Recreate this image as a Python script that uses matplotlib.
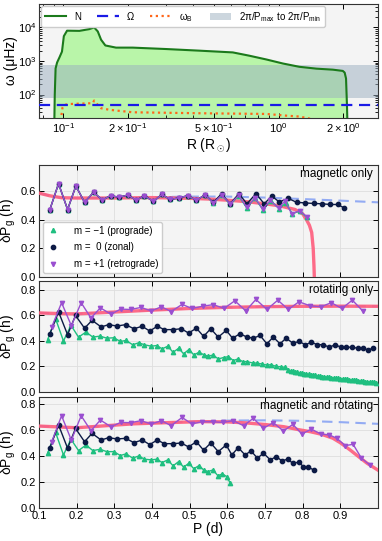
import numpy as np
import matplotlib
matplotlib.use('Agg')
from matplotlib import pyplot as plt
from matplotlib.ticker import FixedLocator, FixedFormatter, LogLocator, NullFormatter

plt.rcParams['font.family'] = ['Liberation Sans', 'DejaVu Sans']
plt.rcParams['mathtext.fontset'] = 'custom'
plt.rcParams['mathtext.rm'] = 'Liberation Sans'
plt.rcParams['mathtext.it'] = 'Liberation Sans:italic'
plt.rcParams['mathtext.bf'] = 'Liberation Sans:bold'

# ---- top panel : frequency profiles ----
R_N = [0.0905, 0.0912, 0.092, 0.0935, 0.096, 0.0985, 0.1005, 0.104, 0.1187, 0.132, 0.139,
       0.1445, 0.1497, 0.1567, 0.1757, 0.21, 0.30, 0.428, 0.613, 0.73, 0.877, 1.048, 1.25,
       1.5, 1.79, 1.99, 2.03, 2.06, 2.08, 2.10]
N_prof = [5, 100, 600, 900, 1300, 1900, 5500, 8000, 7900, 8900, 10000,
          7600, 4300, 2900, 2500, 2500, 2270, 2030, 1800, 1440, 1110, 840, 670,
          590, 550, 505, 450, 300, 50, 5]
R_B = [0.0965, 0.0976, 0.099, 0.101, 0.1066, 0.125, 0.137, 0.139, 0.1445, 0.1497, 0.1637,
       0.21, 0.428, 0.877, 1.086, 1.25, 1.40]
wB_prof = [5, 20, 40, 49, 52, 54, 55, 66, 49, 39, 35, 29.5, 27.6, 26.3, 23.4, 22, 19]
Omega = 50.0
band_lo, band_hi = 76, 760

# ---- magnetic only ----
mag_P_low = [0.129, 0.152, 0.176, 0.198, 0.221, 0.245, 0.268, 0.290, 0.312, 0.336,
             0.358, 0.380, 0.404, 0.426, 0.448, 0.471, 0.495, 0.518]
mag_d_low = [0.47, 0.65, 0.47, 0.634, 0.52, 0.59, 0.537, 0.566, 0.556, 0.57,
             0.535, 0.566, 0.526, 0.575, 0.54, 0.551, 0.566, 0.535]
mag_P_m1 = [0.541, 0.563, 0.585, 0.608, 0.630, 0.652, 0.673, 0.694, 0.716, 0.738, 0.755,
            0.773, 0.792, 0.811]
mag_d_m1 = [0.572, 0.514, 0.57, 0.505, 0.565, 0.48, 0.55, 0.47, 0.53, 0.475, 0.515,
            0.44, 0.46, 0.415]
mag_P_m0 = [0.541, 0.563, 0.585, 0.607, 0.631, 0.652, 0.676, 0.698, 0.718, 0.738, 0.762,
            0.784, 0.807, 0.829, 0.851, 0.873, 0.893, 0.911]
mag_d_m0 = [0.572, 0.52, 0.58, 0.51, 0.58, 0.51, 0.58, 0.51, 0.563, 0.523, 0.547,
            0.52, 0.516, 0.512, 0.51, 0.505, 0.505, 0.48]
mag_P_p1 = [0.541, 0.563, 0.585, 0.608, 0.630, 0.652, 0.673, 0.694, 0.714, 0.736, 0.753,
            0.771, 0.792, 0.811]
mag_d_p1 = [0.572, 0.516, 0.57, 0.51, 0.568, 0.485, 0.552, 0.475, 0.533, 0.48, 0.528,
            0.44, 0.462, 0.42]
mag_curve_P = [0.10, 0.13, 0.16, 0.20, 0.30, 0.40, 0.50, 0.55, 0.60, 0.65, 0.70, 0.74,
               0.78, 0.80, 0.81, 0.818, 0.824, 0.828, 0.830, 0.831]
mag_curve_d = [0.584, 0.565, 0.552, 0.55, 0.55, 0.553, 0.548, 0.543, 0.535, 0.525, 0.51,
               0.495, 0.47, 0.44, 0.40, 0.36, 0.31, 0.20, 0.08, 0.0]
mag_ref_P = [0.10, 0.13, 0.16, 0.20, 0.30, 0.40, 0.50, 0.60, 0.70, 0.80, 0.90, 1.0]
mag_ref_d = [0.584, 0.565, 0.552, 0.55, 0.552, 0.556, 0.56, 0.56, 0.553, 0.543, 0.532, 0.52]

# ---- rotating only ----
rot_P_m1 = [0.123, 0.144, 0.165, 0.185, 0.205, 0.225, 0.243, 0.262, 0.280, 0.299,
            0.316, 0.331, 0.349, 0.365, 0.380, 0.398, 0.413, 0.427, 0.442, 0.456,
            0.471, 0.484, 0.498, 0.511, 0.525, 0.537, 0.549, 0.562, 0.576, 0.590,
            0.603, 0.616, 0.628, 0.641, 0.653, 0.667, 0.678, 0.692, 0.705, 0.716,
            0.730, 0.742, 0.753, 0.762, 0.768, 0.774, 0.780, 0.786, 0.792, 0.798,
            0.804, 0.810, 0.816, 0.822, 0.828, 0.834, 0.840, 0.846, 0.852, 0.858,
            0.864, 0.870, 0.876, 0.882, 0.888, 0.894, 0.900, 0.906, 0.912, 0.918,
            0.924, 0.930, 0.936, 0.942, 0.948, 0.954, 0.960, 0.966, 0.972, 0.978,
            0.984, 0.990, 0.996]
rot_d_m1 = [0.41, 0.575, 0.40, 0.523, 0.43, 0.47, 0.43, 0.438, 0.422, 0.425,
            0.396, 0.404, 0.37, 0.386, 0.37, 0.359, 0.364, 0.338, 0.359, 0.311,
            0.343, 0.299, 0.333, 0.291, 0.311, 0.293, 0.28, 0.29, 0.259, 0.27,
            0.277, 0.246, 0.259, 0.238, 0.238, 0.227, 0.227, 0.219, 0.211, 0.214,
            0.20, 0.198, 0.193, 0.170, 0.164, 0.161, 0.157, 0.154, 0.149, 0.147,
            0.143, 0.141, 0.137, 0.135, 0.131, 0.130, 0.126, 0.125, 0.121, 0.120,
            0.116, 0.115, 0.112, 0.110, 0.107, 0.106, 0.103, 0.102, 0.099, 0.098,
            0.095, 0.094, 0.091, 0.090, 0.087, 0.086, 0.083, 0.082, 0.079, 0.079,
            0.076, 0.075, 0.073]
rot_P_m0 = [0.129, 0.152, 0.176, 0.197, 0.221, 0.241, 0.265, 0.285, 0.307, 0.330,
            0.352, 0.374, 0.394, 0.414, 0.433, 0.456, 0.478, 0.497, 0.518, 0.537,
            0.556, 0.576, 0.597, 0.614, 0.634, 0.652, 0.669, 0.687, 0.705, 0.722,
            0.740, 0.756, 0.774, 0.791, 0.807, 0.823, 0.838, 0.855, 0.871, 0.886,
            0.902, 0.916, 0.931, 0.946, 0.959, 0.973, 0.988]
rot_d_m0 = [0.457, 0.628, 0.449, 0.60, 0.50, 0.562, 0.51, 0.528, 0.517, 0.528,
            0.496, 0.515, 0.478, 0.515, 0.489, 0.489, 0.496, 0.462, 0.50, 0.436,
            0.496, 0.43, 0.483, 0.422, 0.457, 0.43, 0.422, 0.443, 0.378, 0.43,
            0.378, 0.422, 0.383, 0.396, 0.37, 0.39, 0.372, 0.37, 0.351, 0.37,
            0.351, 0.351, 0.351, 0.343, 0.343, 0.33, 0.343]
rot_P_p1 = [0.134, 0.160, 0.186, 0.212, 0.238, 0.263, 0.291, 0.317, 0.343, 0.371,
            0.398, 0.425, 0.451, 0.480, 0.506, 0.535, 0.563, 0.591, 0.620, 0.649,
            0.676, 0.705, 0.734, 0.762, 0.790, 0.820, 0.848, 0.876, 0.904, 0.932, 0.960]
rot_d_p1 = [0.51, 0.70, 0.52, 0.70, 0.58, 0.66, 0.61, 0.65, 0.647, 0.663,
            0.636, 0.668, 0.631, 0.687, 0.655, 0.673, 0.685, 0.655, 0.715, 0.636,
            0.726, 0.647, 0.72, 0.647, 0.707, 0.676, 0.668, 0.70, 0.655, 0.72, 0.634]
rot_curve_P = [0.10, 0.15, 0.20, 0.30, 0.40, 0.50, 0.60, 0.70, 0.80, 0.90, 1.0]
rot_curve_d = [0.62, 0.615, 0.612, 0.627, 0.642, 0.655, 0.664, 0.669, 0.672, 0.673, 0.672]

# ---- magnetic and rotating ----
mr_P_m1 = [0.123, 0.144, 0.165, 0.185, 0.205, 0.225, 0.243, 0.262, 0.280, 0.299,
           0.316, 0.331, 0.349, 0.365, 0.380, 0.398, 0.413, 0.427, 0.442, 0.456,
           0.471, 0.484, 0.498, 0.511, 0.525, 0.537, 0.549, 0.562, 0.575, 0.587,
           0.598, 0.607]
mr_d_m1 = [0.42, 0.58, 0.407, 0.527, 0.44, 0.483, 0.44, 0.45, 0.432, 0.432,
           0.402, 0.415, 0.382, 0.399, 0.374, 0.369, 0.374, 0.348, 0.369, 0.323,
           0.356, 0.313, 0.343, 0.301, 0.325, 0.292, 0.279, 0.292, 0.247, 0.262,
           0.241, 0.195]
mr_P_m0 = [0.129, 0.152, 0.176, 0.197, 0.221, 0.241, 0.265, 0.285, 0.307, 0.330,
           0.352, 0.374, 0.394, 0.414, 0.433, 0.456, 0.478, 0.497, 0.518, 0.537,
           0.556, 0.576, 0.597, 0.612, 0.629, 0.647, 0.663, 0.680, 0.696, 0.714,
           0.730, 0.745, 0.760, 0.774, 0.789, 0.802, 0.815, 0.829]
mr_d_m0 = [0.463, 0.636, 0.458, 0.61, 0.508, 0.572, 0.521, 0.539, 0.529, 0.534,
           0.501, 0.521, 0.486, 0.521, 0.493, 0.493, 0.498, 0.468, 0.508, 0.443,
           0.498, 0.432, 0.483, 0.407, 0.463, 0.407, 0.437, 0.382, 0.42, 0.369,
           0.394, 0.361, 0.374, 0.343, 0.351, 0.318, 0.313, 0.292]
mr_P_p1 = [0.134, 0.160, 0.186, 0.212, 0.238, 0.263, 0.291, 0.317, 0.343, 0.371,
           0.398, 0.425, 0.451, 0.480, 0.506, 0.532, 0.561, 0.588, 0.616, 0.643,
           0.669, 0.696, 0.722, 0.749, 0.774, 0.798, 0.823, 0.848, 0.871, 0.891,
           0.913, 0.934, 0.956, 0.978]
mr_d_p1 = [0.508, 0.707, 0.52, 0.707, 0.592, 0.674, 0.623, 0.656, 0.654, 0.669,
           0.644, 0.669, 0.631, 0.694, 0.644, 0.661, 0.661, 0.656, 0.669, 0.631,
           0.687, 0.611, 0.654, 0.59, 0.641, 0.567, 0.605, 0.567, 0.56, 0.534,
           0.478, 0.488, 0.382, 0.33]
mr_curve_P = [0.10, 0.20, 0.35, 0.45, 0.53, 0.60, 0.65, 0.70, 0.75, 0.79, 0.82, 0.85,
              0.88, 0.90, 0.926, 0.95, 0.971, 1.0]
mr_curve_d = [0.628, 0.615, 0.645, 0.655, 0.662, 0.66, 0.652, 0.64, 0.623, 0.60, 0.585,
              0.565, 0.535, 0.50, 0.445, 0.39, 0.343, 0.29]
mr_ref_P = [0.10, 0.20, 0.35, 0.50, 0.60, 0.70, 0.80, 0.90, 1.0]
mr_ref_d = [0.628, 0.615, 0.645, 0.662, 0.67, 0.672, 0.668, 0.658, 0.645]

c_green = '#1fbf80'
c_navy = '#0c1a45'
c_purple = '#9a4fd0'
c_pink = '#ff5c7c'
c_lblue = '#93abf3'
bg = '#f4f4f4'

fig = plt.figure(figsize=(3.82, 5.41), dpi=100)

# top panel
ax0 = fig.add_axes([0.102, 0.782, 0.8875, 0.2106])
ax0.set_facecolor(bg)
ax0.fill_between(R_N, N_prof, 1e-2, color='#b9f5a9', lw=0, zorder=1)
ax0.axhspan(band_lo, band_hi, color='#9aaebf', alpha=0.5, lw=0, zorder=2,
            label=r'2π/P$_{\rm max}$ to 2π/P$_{\rm min}$')
ax0.plot(R_N, N_prof, color='#1b7a1b', lw=1.5, zorder=4, label='N')
ax0.axhline(Omega, color='#1a1ae6', ls=(0, (5, 3)), lw=1.6, zorder=4, label='Ω')
ax0.plot(R_B, wB_prof, color='#ff6619', ls=(0, (1, 1.6)), lw=1.6, zorder=3,
         label=r'ω$_{\rm B}$')
ax0.set_xscale('log')
ax0.set_yscale('log')
ax0.set_xlim(0.077, 2.9)
ax0.set_ylim(20, 5e4)
ax0.xaxis.set_major_locator(FixedLocator([0.1, 0.2, 0.5, 1.0, 2.0]))
ax0.xaxis.set_major_formatter(FixedFormatter([r'$10^{-1}$', r'$2\times10^{-1}$',
                                              r'$5\times10^{-1}$', r'$10^{0}$',
                                              r'$2\times10^{0}$']))
ax0.xaxis.set_minor_locator(LogLocator(subs=np.arange(2, 10)))
ax0.xaxis.set_minor_formatter(NullFormatter())
ax0.set_xlabel(r'R (R$_\odot$)', fontsize=10, labelpad=1)
ax0.set_ylabel('ω (μHz)', fontsize=10)
ax0.yaxis.set_label_coords(-0.062, 0.5)
h, l = ax0.get_legend_handles_labels()
order = [1, 2, 3, 0]
ax0.legend([h[i] for i in order], [l[i] for i in order], loc='upper left', ncol=4,
           fontsize=7, frameon=True, framealpha=1, edgecolor='#cccccc',
           handlelength=2.2, columnspacing=1.7, handletextpad=0.8,
           borderaxespad=0.25, borderpad=0.35)

# bottom panels
rects = [[0.102, 0.488, 0.8875, 0.207],
         [0.102, 0.2755, 0.8875, 0.205],
         [0.102, 0.061, 0.8875, 0.205]]
data = [
    (mag_P_low + mag_P_m1, mag_d_low + mag_d_m1, mag_P_low + mag_P_m0, mag_d_low + mag_d_m0,
     mag_P_low + mag_P_p1, mag_d_low + mag_d_p1, mag_ref_P, mag_ref_d, mag_curve_P, mag_curve_d,
     'magnetic only', 0.78),
    (rot_P_m1, rot_d_m1, rot_P_m0, rot_d_m0, rot_P_p1, rot_d_p1, rot_curve_P, rot_curve_d,
     rot_curve_P, rot_curve_d, 'rotating only', 0.87),
    (mr_P_m1, mr_d_m1, mr_P_m0, mr_d_m0, mr_P_p1, mr_d_p1, mr_ref_P, mr_ref_d,
     mr_curve_P, mr_curve_d, 'magnetic and rotating', 0.85),
]

axes = []
for k, (rect, d) in enumerate(zip(rects, data)):
    ax = fig.add_axes(rect)
    axes.append(ax)
    ax.set_facecolor(bg)
    ax.grid(True, color='#dedede', lw=0.6, zorder=0)
    ax.set_axisbelow(True)
    ax.plot(d[6], d[7], color=c_lblue, ls=(0, (5, 3)), lw=1.5, zorder=2)
    ax.plot(d[8], d[9], color=c_pink, lw=2.4, alpha=0.9, zorder=3)
    ax.plot(d[0], d[1], color=c_green, marker='^', ms=3.1, lw=1, zorder=4,
            label='m = −1 (prograde)')
    ax.plot(d[2], d[3], color=c_navy, marker='o', ms=3.1, lw=1, zorder=5,
            label='m =  0 (zonal)')
    ax.plot(d[4], d[5], color=c_purple, marker='v', ms=3.1, lw=1, zorder=6,
            label='m = +1 (retrograde)')
    ax.text(0.985, 0.975, d[10], transform=ax.transAxes, ha='right', va='top',
            fontsize=8.5, zorder=10)
    ax.set_xlim(0.1, 1.0)
    ax.set_ylim(0, d[11])
    ax.set_xticks([0.1, 0.2, 0.3, 0.4, 0.5, 0.6, 0.7, 0.8, 0.9])
    ax.set_yticks([0.0, 0.2, 0.4, 0.6] if k == 0 else [0.0, 0.2, 0.4, 0.6, 0.8])
    ax.set_ylabel(r'δP$_{\rm g}$ (h)', fontsize=10)
    ax.yaxis.set_label_coords(-0.062, 0.5)
    if k < 2:
        ax.tick_params(labelbottom=False)
    else:
        ax.set_xlabel('P (d)', fontsize=10, labelpad=1)

leg = axes[0].legend(loc='lower left', fontsize=7, frameon=True, framealpha=1,
                     edgecolor='#cccccc', handlelength=1.2, handletextpad=1.6,
                     borderaxespad=0.4, labelspacing=0.7)
for line in leg.get_lines():
    line.set_linestyle('none')

for ax in [ax0] + axes:
    ax.tick_params(which='both', direction='in', top=True, right=True, labelsize=8,
                   pad=2)
    ax.tick_params(which='major', length=3.5, width=0.7)
    ax.tick_params(which='minor', length=2, width=0.6)
    for s in ax.spines.values():
        s.set_color('#333333')
        s.set_linewidth(0.8)

fig.savefig('out.png', dpi=100)
